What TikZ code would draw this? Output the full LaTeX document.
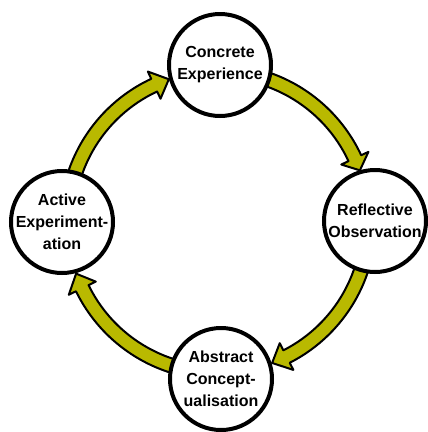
\documentclass[tikz,border=0pt]{standalone}
\usepackage{fontspec}
\setmainfont{Liberation Sans}
\definecolor{arrowolive}{RGB}{185,185,0}
\tikzset{
  stage/.style={circle, draw=black, line width=4pt, fill=white, minimum size=102pt, inner sep=0pt},
  stagetext/.style={align=center, font=\fontsize{16}{22}\selectfont\bfseries, inner sep=0pt},
  cyclearrowstyle/.style={fill=arrowolive, draw=black, line width=2pt, line join=round}
}
\newcommand{\cyclearrow}[3]{%
  \filldraw[cyclearrowstyle]
    plot[domain=#1:#2,samples=40] ({218+158*cos(\x)},{222+158*sin(\x)})
    -- ({218+166*cos(#2)},{222+166*sin(#2)})
    -- ({218+151*cos(#3)},{222+151*sin(#3)})
    -- ({218+136*cos(#2)},{222+136*sin(#2)})
    -- plot[domain=#2:#1,samples=40] ({218+144*cos(\x)},{222+144*sin(\x)})
    -- cycle;}
\begin{document}
\begin{tikzpicture}[x=1pt,y=-1pt]
\useasboundingbox (0,0) rectangle (428,432);
% arrows
\cyclearrow{196}{245}{251}
\cyclearrow{288}{335}{340}
\cyclearrow{16}{63}{69}
\cyclearrow{106}{154}{160}
% stages
\node[stage] (ce) at (220,65) {};
\node[stage] (ro) at (375,221) {};
\node[stage] (ac) at (221,379) {};
\node[stage] (ae) at (62,222) {};
\node[stagetext] at (ce) {Concrete\\Experience};
\node[stagetext] at (ro) {Reflective\\Observation};
\node[stagetext] at (ac) {Abstract\\Concept-\\ualisation};
\node[stagetext] at (ae) {Active\\Experiment-\\ation};
\end{tikzpicture}
\end{document}
